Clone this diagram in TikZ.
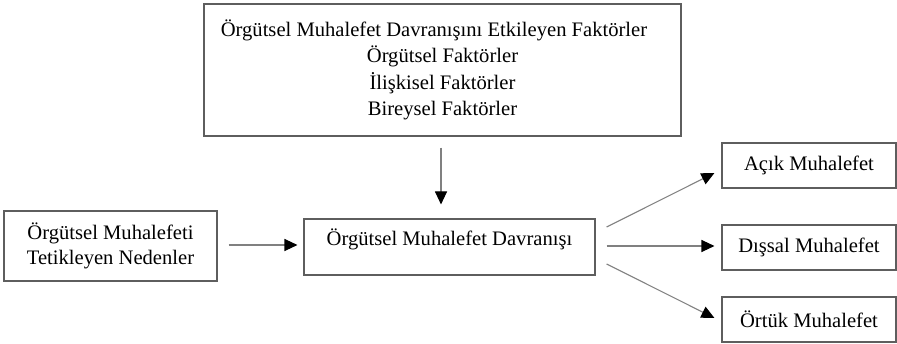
\documentclass[tikz,border=0pt]{standalone}
\usepackage{fontspec}
\setmainfont{Liberation Serif}
\usetikzlibrary{arrows.meta}
\definecolor{boxline}{HTML}{5E5E5E}
\definecolor{arrline}{HTML}{808080}
\tikzset{
  boxnode/.style={draw=boxline, line width=1.1pt, inner sep=0pt, align=center,
    font=\fontsize{20.6}{26.5}\selectfont},
  arr/.style={draw=arrline, line width=1.1pt,
    -{Triangle[length=13pt,width=12pt,color=black,fill=black]}}
}
\begin{document}
\begin{tikzpicture}[x=1pt,y=1pt]
\useasboundingbox (0,0) rectangle (897,343);
\node[boxnode, minimum width=477pt, minimum height=132pt] (t) at (442.5,273)
  {Örgütsel Muhalefet Davranışını Etkileyen Faktörler\hspace*{17pt}\\
   Örgütsel Faktörler\\ İlişkisel Faktörler\\ Bireysel Faktörler};
\node[boxnode, minimum width=213pt, minimum height=70pt,
  font=\fontsize{20.6}{25.5}\selectfont] (l) at (110.5,97)
  {Örgütsel Muhalefeti\\ Tetikleyen Nedenler};
\node[boxnode, minimum width=291pt, minimum height=56pt,
  text height=14pt, text depth=16pt] (c) at (449.5,96)
  {Örgütsel Muhalefet Davranışı};
\node[boxnode, minimum width=174pt, minimum height=45pt] (a) at (809,177.5) {Açık Muhalefet};
\node[boxnode, minimum width=174pt, minimum height=45pt] (d) at (809,95.5) {Dışsal Muhalefet};
\node[boxnode, minimum width=174pt, minimum height=45pt] (o) at (809,23.5) {Örtük Muhalefet};
\draw[arr] ([shift={(-1.5pt,-11pt)}]t.south) -- ([shift={(-8.5pt,14pt)}]c.north);
\draw[arr] ([shift={(11pt,1pt)}]l.east) -- ([shift={(-6pt,2pt)}]c.west);
\draw[arr] ([shift={(11pt,20pt)}]c.east) -- ([shift={(-7pt,-7.5pt)}]a.west);
\draw[arr] ([shift={(11pt,1pt)}]c.east) -- ([shift={(-7pt,1.5pt)}]d.west);
\draw[arr] ([shift={(11pt,-17pt)}]c.east) -- ([shift={(-7pt,1.5pt)}]o.west);
\end{tikzpicture}
\end{document}
